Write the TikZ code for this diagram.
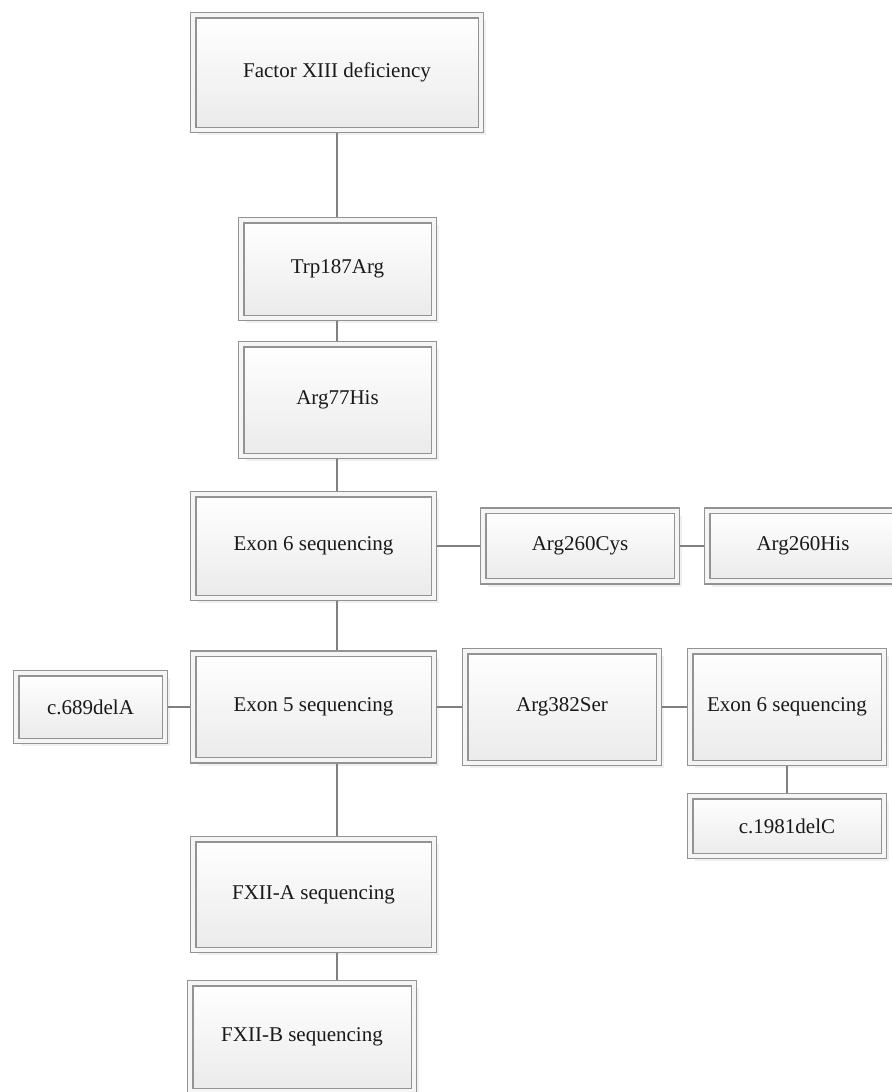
\documentclass[tikz,border=0pt]{standalone}
\usepackage{fontspec}
\setmainfont{Liberation Serif}
\usepackage{tikz}
\usetikzlibrary{positioning, shadows, backgrounds}

\begin{document}
\begin{tikzpicture}[
  x=0.5pt, y=-0.5pt,
  every node/.style={font=\fontsize{10.5}{12}\selectfont, text=black!90},
  box/.style={draw=gray!85, line width=0.7pt, double=gray!8, double distance=1.9pt,
    top color=white, bottom color=gray!16, inner sep=0pt, align=center,
    drop shadow={opacity=0.12, shadow xshift=2.6pt, shadow yshift=-2.6pt}},
  link/.style={draw=gray, line width=0.8pt}
]
\useasboundingbox (0, 0) rectangle (892, 1092);

% Main column
\node[box, minimum width=143.8pt, minimum height=57.3pt] (fxiii) at (337, 72.5) {Factor XIII deficiency};
\node[box, minimum width=96.3pt, minimum height=48.8pt] (trp) at (337.5, 269) {Trp187Arg};
\node[box, minimum width=96.3pt, minimum height=55.8pt] (argHis) at (337.5, 400) {Arg77His};
\node[box, minimum width=120.3pt, minimum height=51.8pt] (exonSixA) at (313.5, 546) {Exon 6 sequencing};
\node[box, minimum width=120.3pt, minimum height=53.3pt] (exonFive) at (313.5, 707) {Exon 5 sequencing};
\node[box, minimum width=120.3pt, minimum height=55.3pt] (fxiiA) at (313.5, 894.5) {FXII-A sequencing};
\node[box, minimum width=111.8pt, minimum height=53.8pt] (fxiiB) at (302, 1037) {FXII-B sequencing};

% Exon 6 branch
\node[box, minimum width=96.8pt, minimum height=35.3pt] (cys) at (580, 546) {Arg260Cys};
\node[box, minimum width=95.8pt, minimum height=35.3pt] (his) at (803, 546) {Arg260His};

% Exon 5 branch
\node[box, minimum width=74.3pt, minimum height=33.8pt] (delA) at (90.5, 707) {c.689delA};
\node[box, minimum width=96.8pt, minimum height=55.8pt] (ser) at (562, 707) {Arg382Ser};
\node[box, minimum width=96.8pt, minimum height=55.8pt] (exonSixB) at (787, 707) {Exon 6 sequencing};
\node[box, minimum width=96.8pt, minimum height=29.8pt] (delC) at (787, 826) {c.1981delC};

\coordinate (spine) at (337, 0);

% Connectors
\begin{scope}[on background layer]
\draw[link] (fxiii.south -| spine) -- (trp.north -| spine);
\draw[link] (trp.south -| spine) -- (argHis.north -| spine);
\draw[link] (argHis.south -| spine) -- (exonSixA.north -| spine);
\draw[link] (exonSixA.south -| spine) -- (exonFive.north -| spine);
\draw[link] (exonFive.south -| spine) -- (fxiiA.north -| spine);
\draw[link] (fxiiA.south -| spine) -- (fxiiB.north -| spine);
\draw[link] (exonSixA.east) -- (cys.west);
\draw[link] (cys.east) -- (his.west);
\draw[link] (delA.east) -- (exonFive.west);
\draw[link] (exonFive.east) -- (ser.west);
\draw[link] (ser.east) -- (exonSixB.west);
\draw[link] (exonSixB.south) -- (delC.north);
\end{scope}

\end{tikzpicture}
\end{document}
